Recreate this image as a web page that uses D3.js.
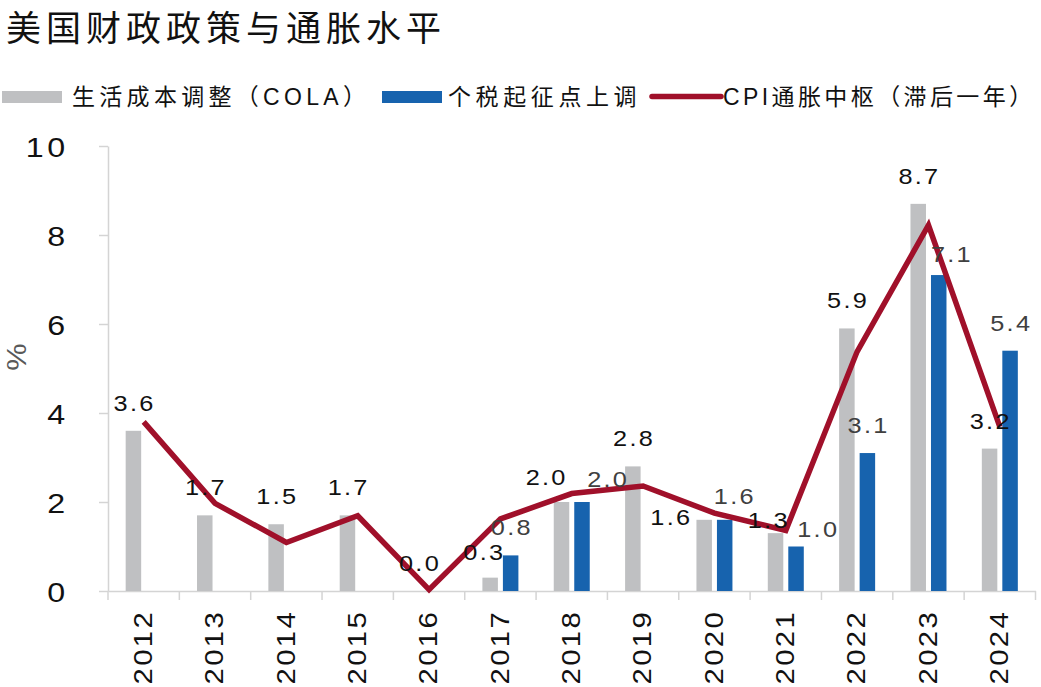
<!DOCTYPE html>
<html>
<head>
<meta charset="utf-8">
<script src="https://cdn.jsdelivr.net/npm/d3@7"></script>
<style>
  html, body { margin: 0; padding: 0; background: #fff; }
  svg { display: block; }
</style>
</head>
<body>
<svg id="chart" width="1041" height="687"></svg>
<script>
// ---------- data ----------
const years = ['2012','2013','2014','2015','2016','2017','2018','2019','2020','2021','2022','2023','2024'];
const colaValues = [3.6, 1.7, 1.5, 1.7, 0.0, 0.3, 2.0, 2.8, 1.6, 1.3, 5.9, 8.7, 3.2];
const taxValues  = [null, null, null, null, null, 0.8, 2.0, null, 1.6, 1.0, 3.1, 7.1, 5.4];
const cpiValues  = [3.8, 1.97, 1.09, 1.69, 0.03, 1.62, 2.19, 2.36, 1.75, 1.36, 5.38, 8.22, 3.69];
const yTicks = [0, 2, 4, 6, 8, 10];
const seriesNames = ['生活成本调整（COLA）', '个税起征点上调', 'CPI通胀中枢（滞后一年）'];
const titleText = '美国财政政策与通胀水平';
const yAxisLabel = '%';

// manual label nudges (layout only), [dx, dy] in px
const colaLabelNudge = { '2017': [-7, 2], '2018': [-16, 3], '2020': [-34, 25], '2021': [-8, 15] };
const taxLabelNudge  = { '2018': [25, 5], '2020': [9, 4], '2021': [21, 10], '2023': [12, 7] };

// ---------- style ----------
const C_GRAY = '#BFC0C2', C_BLUE = '#1763AE', C_RED = '#A0102A', C_AXIS = '#D4D4D4';
const LATIN = '"Liberation Sans", Arial, "Noto Sans CJK SC", sans-serif';
const STRETCH = 1.15;

const svg = d3.select('#chart');

const x = d3.scaleBand().domain(years).range([108, 1035.5]).padding(0);
const bw = x.bandwidth();
const xs = d3.scaleBand().domain(['cola', 'tax']).range([bw / 2 - 18, bw / 2 + 18]).paddingInner(0.244).paddingOuter(0);
const y = d3.scaleLinear().domain([0, 10]).range([591, 146]);

// ---------- title ----------
svg.append('text')
  .attr('x', 6).attr('y', 25)
  .attr('dominant-baseline', 'central')
  .attr('font-family', '"Noto Sans CJK SC", sans-serif')
  .attr('font-size', 35)
  .attr('letter-spacing', 5)
  .attr('fill', '#111')
  .text(titleText);

// ---------- legend ----------
const lg = svg.append('g');
const legendFont = (sel) => sel.attr('font-family', LATIN).attr('font-size', 23).attr('fill', '#111')
  .attr('dominant-baseline', 'central');
lg.append('rect').attr('x', 2).attr('y', 91).attr('width', 60).attr('height', 12).attr('fill', C_GRAY);
legendFont(lg.append('text').attr('transform', 'translate(72,97)').attr('letter-spacing', 4.3)).text(seriesNames[0]);
lg.append('rect').attr('x', 382).attr('y', 91).attr('width', 60).attr('height', 12).attr('fill', C_BLUE);
legendFont(lg.append('text').attr('transform', 'translate(448,97)').attr('letter-spacing', 4.6)).text(seriesNames[1]);
lg.append('line').attr('x1', 652).attr('x2', 721).attr('y1', 96.5).attr('y2', 96.5)
  .attr('stroke', C_RED).attr('stroke-width', 5.5).attr('stroke-linecap', 'round');
legendFont(lg.append('text').attr('transform', 'translate(723,97)').attr('letter-spacing', 3.4)).text(seriesNames[2]);

// ---------- axes ----------
const yAxis = d3.axisLeft(y).tickValues(yTicks).tickSize(9).tickSizeOuter(0).tickFormat(d3.format('d'));
const gy = svg.append('g').attr('transform', 'translate(108,0)').call(yAxis);
gy.select('.domain').attr('stroke', C_AXIS).attr('stroke-width', 1.5);
gy.selectAll('.tick line').attr('stroke', C_AXIS).attr('stroke-width', 1.5);
gy.selectAll('.tick text')
  .attr('x', 0).attr('dy', null)
  .attr('transform', `translate(-39.5,1) scale(${STRETCH},1)`)
  .attr('text-anchor', 'end')
  .attr('dominant-baseline', 'central')
  .attr('letter-spacing', 3)
  .attr('font-family', LATIN).attr('font-size', 28).attr('fill', '#111');

const xAxis = d3.axisBottom(x).tickSize(0).tickSizeOuter(0);
const gx = svg.append('g').attr('transform', 'translate(0,591)').call(xAxis);
gx.select('.domain').attr('stroke', C_AXIS).attr('stroke-width', 1.5);
gx.selectAll('.tick text').remove();
// boundary ticks between categories
const boundaries = years.map(d => x(d)).concat([x(years[years.length - 1]) + bw]);
gx.selectAll('.bline').data(boundaries).enter().append('line')
  .attr('x1', d => d).attr('x2', d => d).attr('y1', 0).attr('y2', 9)
  .attr('stroke', C_AXIS).attr('stroke-width', 1.5);
// category labels (rotated)
gx.selectAll('.xl').data(years).enter().append('text')
  .attr('transform', d => `translate(${x(d) + bw / 2 - 1},19) rotate(-90) scale(${STRETCH},1)`)
  .attr('dy', '0.36em')
  .attr('text-anchor', 'end')
  .attr('letter-spacing', 2)
  .attr('font-family', LATIN).attr('font-size', 25.5).attr('fill', '#111')
  .text(d => d);

// y label
svg.append('text')
  .attr('transform', `translate(16,357) rotate(-90) scale(1.1,1)`)
  .attr('text-anchor', 'middle').attr('dominant-baseline', 'central')
  .attr('font-family', LATIN).attr('font-size', 28).attr('fill', '#595959')
  .text(yAxisLabel);

// ---------- bars ----------
const colaData = years.map((d, i) => ({ year: d, v: colaValues[i] }));
const taxData = years.map((d, i) => ({ year: d, v: taxValues[i] })).filter(d => d.v !== null);

svg.append('g').selectAll('rect').data(colaData).enter().append('rect')
  .attr('x', d => x(d.year) + xs('cola'))
  .attr('width', xs.bandwidth())
  .attr('y', d => y(d.v))
  .attr('height', d => y(0) - y(d.v))
  .attr('fill', C_GRAY);

svg.append('g').selectAll('rect').data(taxData).enter().append('rect')
  .attr('x', d => x(d.year) + xs('tax'))
  .attr('width', xs.bandwidth())
  .attr('y', d => y(d.v))
  .attr('height', d => y(0) - y(d.v))
  .attr('fill', C_BLUE);

// ---------- line ----------
const line = d3.line()
  .x((d, i) => x(years[i]) + bw / 2)
  .y(d => y(d));
svg.append('path').datum(cpiValues)
  .attr('d', line)
  .attr('fill', 'none')
  .attr('stroke', C_RED)
  .attr('stroke-width', 5.5)
  .attr('stroke-linejoin', 'miter')
  .attr('stroke-miterlimit', 3);

// ---------- data labels ----------
function addLabels(data, key, nudge, color) {
  svg.append('g').selectAll('text').data(data).enter().append('text')
    .attr('transform', d => {
      const n = nudge[d.year] || [0, 0];
      const cx = x(d.year) + xs(key) + xs.bandwidth() / 2 + n[0] + 1.2;
      const cy = y(d.v) - 20 + n[1];
      return `translate(${cx},${cy}) scale(${STRETCH},1)`;
    })
    .attr('text-anchor', 'middle')
    .attr('letter-spacing', 2)
    .attr('font-family', LATIN).attr('font-size', 22).attr('fill', color)
    .text(d => d3.format('.1f')(d.v));
}
addLabels(colaData, 'cola', colaLabelNudge, '#111');
addLabels(taxData, 'tax', taxLabelNudge, '#404040');
</script>
</body>
</html>
